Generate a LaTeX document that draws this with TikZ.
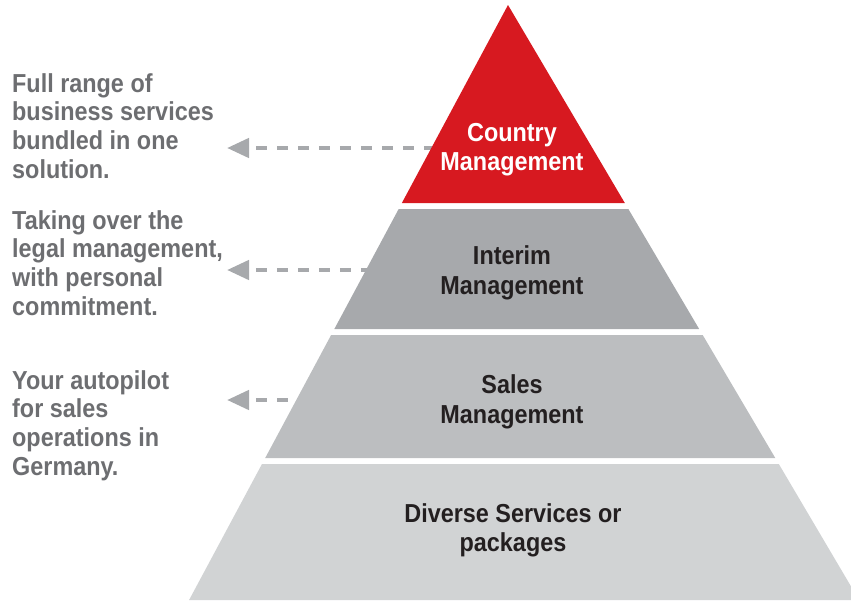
\documentclass[tikz,border=0pt]{standalone}
\usepackage{fontspec}
\setmainfont[FakeStretch=0.9]{Liberation Sans}
\usetikzlibrary{arrows.meta}
\usetikzlibrary{positioning}
\definecolor{pyrred}{RGB}{215,25,32}
\definecolor{pyrgrayA}{RGB}{167,169,172}
\definecolor{pyrgrayB}{RGB}{188,190,192}
\definecolor{pyrgrayC}{RGB}{209,211,212}
\definecolor{sidegray}{RGB}{109,110,113}
\definecolor{pyrtext}{RGB}{35,31,32}

\begin{document}
\begin{tikzpicture}[x=1pt,y=-1pt,
  band/.style={font=\bfseries\fontsize{26}{29.5}\selectfont,align=center,inner sep=0pt,anchor=north,text=pyrtext},
  side/.style={font=\bfseries\fontsize{26}{28.7}\selectfont,align=left,inner sep=0pt,anchor=north west,text=sidegray},
  pointer/.style={draw=pyrgrayA,line width=4.5pt,dash pattern=on 11pt off 10pt,dash phase=13pt,{Triangle[length=22pt,width=19pt]}-}]
\useasboundingbox (0,0) rectangle (851,600);
% dashed pointers, drawn below the pyramid
\foreach \n/\y in {1/148,2/270,3/400}{
  \coordinate (tip\n) at (227,\y);
  \coordinate (edge\n) at ({508-0.536*(\y-5)+4},\y);
  \draw[pointer] (tip\n) -- (edge\n);
}
% pyramid
\begin{scope}
\clip (0,0) rectangle (851,600);
\fill[pyrred] (508,5) -- ({508+0.59*198},203) -- ({508-0.536*198},203) -- cycle;
\foreach \t/\b/\c in {209/329/pyrgrayA,335/458/pyrgrayB,464/600/pyrgrayC}
  \fill[\c] ({508-0.536*(\t-5)},\t) -- ({508+0.59*(\t-5)},\t) -- ({508+0.59*(\b-5)},\b) -- ({508-0.536*(\b-5)},\b) -- cycle;
\end{scope}
\node[band,text=white] (country) at (512,123) {Country\\Management};
\node[band] (interim) at (512,245.5) {Interim\\Management};
\node[band] (sales) at (512,374.5) {Sales\\Management};
\node[band] (diverse) at (513,503) {Diverse Services or\\packages};
% side texts
\node[side] (fullrange) at (12,73) {Full range of\\business services\\bundled in one\\solution.};
\node[side] (takeover) at (12,210) {Taking over the\\legal management,\\with personal\\commitment.};
\node[side] (autopilot) at (12,370) {Your autopilot\\for sales\\operations in\\Germany.};
\end{tikzpicture}
\end{document}
